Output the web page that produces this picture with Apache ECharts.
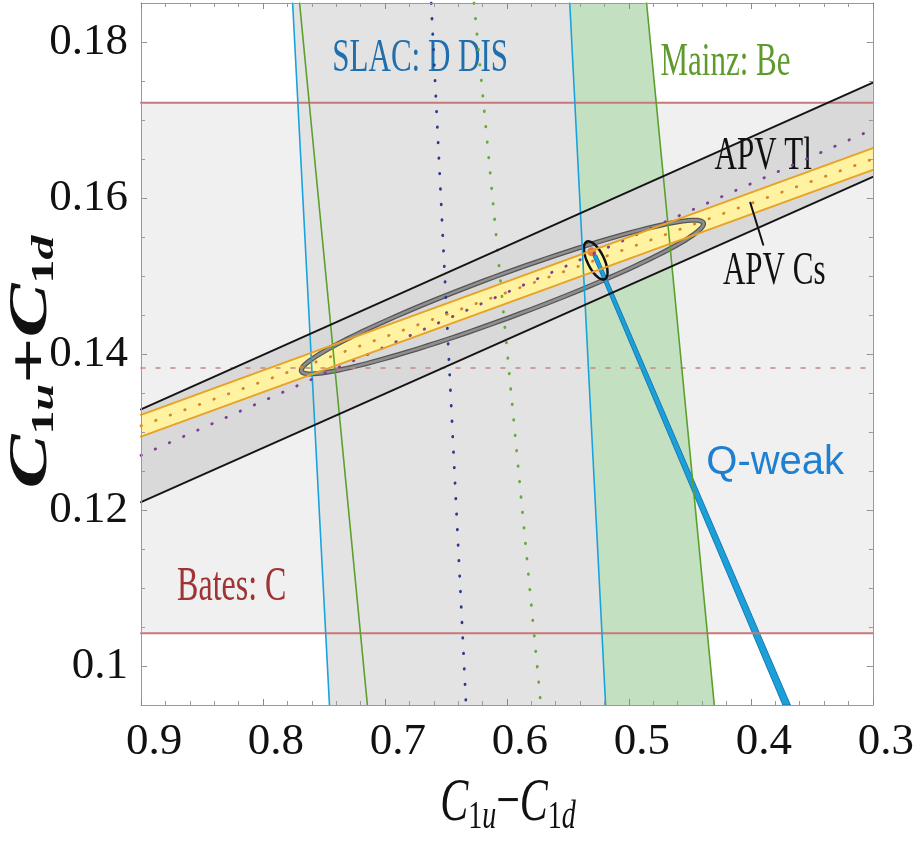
<!DOCTYPE html>
<html>
<head>
<meta charset="utf-8">
<title>C1u+C1d vs C1u-C1d</title>
<script src="https://cdn.jsdelivr.net/npm/echarts@6/dist/echarts.min.js"></script>
<style>
  html, body { margin: 0; padding: 0; background: #fff; }
  #main { width: 917px; height: 842px; }
</style>
</head>
<body>
<div id="main"></div>
<script>
// axes
const xRange = [0.3, 0.9]
const yRange = [0.095, 0.185]
const xTickValues = [0.3, 0.4, 0.5, 0.6, 0.7, 0.8, 0.9]
const yTickValues = [0.1, 0.12, 0.14, 0.16, 0.18]
const yMinorStep = 0.005

// Bates: C  (horizontal band)
const batesBounds = [0.1042, 0.1722]
const batesCentral = 0.1382

// SLAC: D DIS  (line ends [x, y] at top and bottom of frame)
const slacEdgeA = [[0.7757, 0.185], [0.7455, 0.095]]
const slacEdgeB = [[0.5485, 0.185], [0.5191, 0.095]]
const slacCentral = [[0.6621, 0.185], [0.6335, 0.095]]

// Mainz: Be
const mainzEdgeA = [[0.7700, 0.185], [0.7144, 0.095]]
const mainzEdgeB = [[0.4855, 0.185], [0.4300, 0.095]]
const mainzCentral = [[0.6270, 0.185], [0.5722, 0.095]]

// APV Tl
const tlEdgeA = [[0.9, 0.1329], [0.3, 0.1748]]
const tlEdgeB = [[0.9, 0.1210], [0.3, 0.1627]]
const tlCentral = [[0.9, 0.1270], [0.3, 0.1688]]

// APV Cs
const csEdgeA = [[0.9, 0.1322], [0.3, 0.1664]]
const csEdgeB = [[0.9, 0.1294], [0.3, 0.1636]]
const csCentral = [[0.9, 0.1308], [0.3, 0.1650]]

// Q-weak
const qweakBand = [[0.5297, 0.1527], [0.5264, 0.1527], [0.3676, 0.095], [0.3738, 0.095]]

// fit ellipses: centre and two conjugate half-axes, data units
const combinedCenter = [0.6037, 0.1473]
const combinedAxisA = [-0.1648, 0.0095]
const combinedAxisB = [-0.0062, -0.0026]
const qweakCenter = [0.5272, 0.1520]
const qweakAxisA = [0.0074, 0.0024]
const qweakAxisB = [-0.0062, 0.00047]

// standard model point
const smPoint = [0.5305, 0.1531]

// annotations
const labelTexts = ['SLAC: D DIS', 'Mainz: Be', 'Bates: C', 'APV Tl', 'APV Cs', 'Q-weak']
const labelAnchors = [[0.6711, 0.1778], [0.4741, 0.1773], [0.8256, 0.1101], [0.3899, 0.1653], [0.3809, 0.1506], [0.3801, 0.1260]]
const csPointer = [[0.4005, 0.1594], [0.3899, 0.1540]]

const serif = 'Liberation Serif'
const labelStyles = [
  { color: '#1f6fae', font: '31px "Liberation Serif"', align: 'center', scaleY: 1.5 },
  { color: '#5e9a2e', font: '31px "Liberation Serif"', align: 'left', scaleY: 1.5 },
  { color: '#a03434', font: '32px "Liberation Serif"', align: 'center', scaleY: 1.5 },
  { color: '#111', font: '31px "Liberation Serif"', align: 'center', scaleY: 1.5 },
  { color: '#111', font: '31px "Liberation Serif"', align: 'center', scaleY: 1.5 },
  { color: '#1f7fd0', font: '40px "Liberation Sans"', align: 'center', scaleY: 1 }
]

const chart = echarts.init(document.getElementById('main'))

const area = (pts, color) => ({
  type: 'custom',
  coordinateSystem: 'cartesian2d',
  silent: true,
  clip: true,
  data: [[0.6, 0.14]],
  renderItem: (params, api) => ({
    type: 'polygon',
    shape: { points: pts.map(p => api.coord(p)) },
    style: { fill: color }
  })
})

const line = (pts, color, width, dash) => ({
  type: 'line',
  data: pts,
  symbol: 'none',
  silent: true,
  lineStyle: { color: color, width: width, type: dash || 'solid', cap: 'round' }
})

const ellipse = (center, a, b, strokes) => ({
  type: 'custom',
  coordinateSystem: 'cartesian2d',
  silent: true,
  clip: true,
  data: [center],
  renderItem: (params, api) => {
    const c = api.coord(center)
    const pa = api.coord([center[0] + a[0], center[1] + a[1]])
    const pb = api.coord([center[0] + b[0], center[1] + b[1]])
    const u = [pa[0] - c[0], pa[1] - c[1]]
    const v = [pb[0] - c[0], pb[1] - c[1]]
    const pts = []
    for (let i = 0; i < 120; i++) {
      const t = 2 * Math.PI * i / 120
      pts.push([c[0] + u[0] * Math.cos(t) + v[0] * Math.sin(t), c[1] + u[1] * Math.cos(t) + v[1] * Math.sin(t)])
    }
    return {
      type: 'group',
      children: strokes.map(s => ({
        type: 'polygon',
        shape: { points: pts },
        style: { fill: 'none', stroke: s[0], lineWidth: s[1] }
      }))
    }
  }
})

const batesLo = [[xRange[1], batesBounds[0]], [xRange[0], batesBounds[0]]]
const batesHi = [[xRange[1], batesBounds[1]], [xRange[0], batesBounds[1]]]
const batesMid = [[xRange[1], batesCentral], [xRange[0], batesCentral]]

const xAxisBase = (pos, showLabel) => ({
  type: 'value',
  position: pos,
  min: xRange[0],
  max: xRange[1],
  interval: 0.1,
  inverse: true,
  z: 10,
  splitLine: { show: false },
  axisLine: { onZero: false, lineStyle: { color: '#999', width: 1 } },
  axisTick: { inside: true, length: 6, lineStyle: { color: '#888' } },
  minorTick: { show: true, splitNumber: 5, length: 4, lineStyle: { color: '#999' } },
  axisLabel: {
    show: showLabel,
    customValues: xTickValues,
    fontFamily: serif,
    fontSize: 45,
    color: '#111',
    margin: 15,
    padding: [0, 0, 0, 26]
  }
})

const yAxisMajor = (pos, showLabel) => ({
  type: 'value',
  position: pos,
  min: yRange[0],
  max: yRange[1],
  z: 10,
  splitLine: { show: false },
  axisLine: { onZero: false, lineStyle: { color: '#999', width: 1 } },
  axisTick: { inside: true, length: 6, customValues: yTickValues, lineStyle: { color: '#888' } },
  axisLabel: {
    show: showLabel,
    customValues: yTickValues,
    fontFamily: serif,
    fontSize: 45,
    color: '#111',
    margin: 13,
    padding: [0, 0, 12, 0]
  }
})

const yAxisMinor = (pos) => ({
  type: 'value',
  position: pos,
  min: yRange[0],
  max: yRange[1],
  interval: yMinorStep,
  z: 10,
  splitLine: { show: false },
  axisLine: { show: false, onZero: false },
  axisTick: { inside: true, length: 4, lineStyle: { color: '#999' } },
  axisLabel: { show: false }
})

const option = {
  animation: false,
  grid: { left: 141, right: 42, top: 3, bottom: 137 },
  xAxis: [xAxisBase('bottom', true), xAxisBase('top', false)],
  yAxis: [yAxisMajor('left', true), yAxisMinor('left'), yAxisMajor('right', false), yAxisMinor('right')],
  graphic: [
    {
      type: 'text',
      x: 508,
      y: 804,
      scaleY: 1.45,
      style: {
        text: '{c|C}{s|1}{si|u}{m|−}{c|C}{s|1}{si|d}',
        align: 'center',
        verticalAlign: 'middle',
        fill: '#111',
        rich: {
          c: { fontFamily: serif, fontStyle: 'italic', fontSize: 42, lineHeight: 46, fill: '#111' },
          m: { fontFamily: serif, fontSize: 42, lineHeight: 46, fill: '#111' },
          s: { fontFamily: serif, fontSize: 28, lineHeight: 18, verticalAlign: 'bottom', fill: '#111' },
          si: { fontFamily: serif, fontStyle: 'italic', fontSize: 28, lineHeight: 18, verticalAlign: 'bottom', fill: '#111' }
        }
      }
    },
    {
      type: 'text',
      x: 32,
      y: 362,
      rotation: Math.PI / 2,
      scaleX: 1.5,
      style: {
        text: '{c|C}{s|1}{si|u}{p|+}{c|C}{s|1}{si|d}',
        align: 'center',
        verticalAlign: 'middle',
        fill: '#111',
        rich: {
          c: { fontFamily: serif, fontStyle: 'italic', fontWeight: 'bold', fontSize: 54, lineHeight: 58, fill: '#111' },
          p: { fontFamily: serif, fontWeight: 'bold', fontSize: 54, lineHeight: 58, fill: '#111' },
          s: { fontFamily: serif, fontWeight: 'bold', fontSize: 32, lineHeight: 22, verticalAlign: 'bottom', fill: '#111' },
          si: { fontFamily: serif, fontStyle: 'italic', fontWeight: 'bold', fontSize: 32, lineHeight: 22, verticalAlign: 'bottom', fill: '#111' }
        }
      }
    }
  ],
  series: [
    // fills, back to front
    area([batesLo[0], batesLo[1], batesHi[1], batesHi[0]], '#f0f0f0'),
    area([mainzEdgeA[0], mainzEdgeA[1], mainzEdgeB[1], mainzEdgeB[0]], '#c3e0c0'),
    area([slacEdgeA[0], slacEdgeA[1], slacEdgeB[1], slacEdgeB[0]], '#e3e3e3'),

    // Bates lines
    line(batesLo, '#c87878', 2),
    line(batesHi, '#c87878', 2),
    line(batesMid, '#c98585', 1.5, [4, 11]),

    // SLAC lines
    line(slacEdgeA, '#19a3dc', 1.6),
    line(slacEdgeB, '#19a3dc', 1.6),
    line(slacCentral, '#2c3a8c', 2.8, [0.5, 15]),

    // Mainz lines
    line(mainzEdgeA, '#5aa02c', 1.6),
    line(mainzEdgeB, '#5aa02c', 1.6),
    line(mainzCentral, '#6aa83a', 2.8, [0.5, 15]),

    // APV Tl
    area([tlEdgeA[0], tlEdgeA[1], tlEdgeB[1], tlEdgeB[0]], '#d9d9d9'),
    line(tlEdgeA, '#151515', 2),
    line(tlEdgeB, '#151515', 2),
    line(tlCentral, '#7b3f93', 2.8, [0.5, 15]),

    // APV Cs
    area([csEdgeA[0], csEdgeA[1], csEdgeB[1], csEdgeB[0]], '#fff2a0'),
    line(csEdgeA, '#e8a225', 2),
    line(csEdgeB, '#e8a225', 2),
    line(csCentral, '#d4862e', 2.8, [0.5, 15]),

    // combined fit ellipse
    ellipse(combinedCenter, combinedAxisA, combinedAxisB, [['#555', 5], ['#8f8f8f', 2.5]]),

    // Q-weak band
    {
      type: 'custom',
      coordinateSystem: 'cartesian2d',
      silent: true,
      clip: true,
      data: [qweakBand[0]],
      renderItem: (params, api) => ({
        type: 'polygon',
        shape: { points: qweakBand.map(p => api.coord(p)) },
        style: { fill: '#1ba0d8', stroke: '#1878b8', lineWidth: 1 }
      })
    },

    ellipse(qweakCenter, qweakAxisA, qweakAxisB, [['#111', 2.5]]),

    {
      type: 'scatter',
      data: [smPoint],
      symbolSize: 9,
      silent: true,
      itemStyle: { color: '#e0622c' }
    },

    line(csPointer, '#111', 2),

    // labels
    {
      type: 'custom',
      coordinateSystem: 'cartesian2d',
      silent: true,
      clip: false,
      data: labelAnchors.map((p, i) => [p[0], p[1], i]),
      renderItem: (params, api) => {
        const i = api.value(2)
        const pos = api.coord([api.value(0), api.value(1)])
        const st = labelStyles[i]
        return {
          type: 'text',
          x: pos[0],
          y: pos[1],
          scaleY: st.scaleY,
          style: {
            text: labelTexts[i],
            fill: st.color,
            font: st.font,
            align: st.align,
            verticalAlign: 'middle'
          }
        }
      }
    }
  ]
}

chart.setOption(option)

window.addEventListener('resize', function () {
  chart.resize()
})
</script>
</body>
</html>
